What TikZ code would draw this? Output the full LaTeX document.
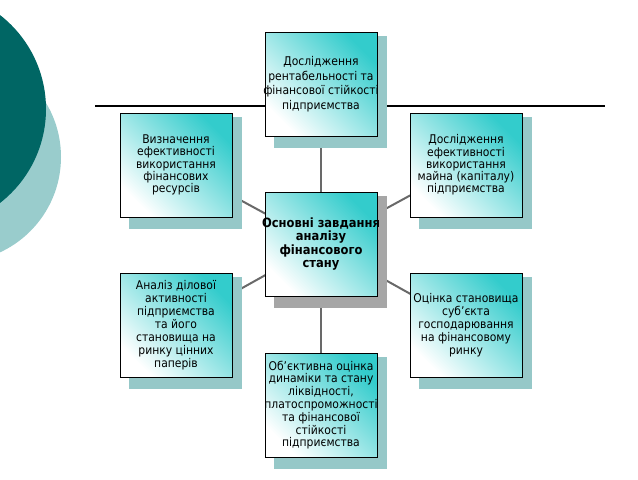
\documentclass[tikz,border=0pt]{standalone}
\usepackage{fontspec}
\setmainfont{DejaVu Sans Condensed}
\usepackage{xcolor}
\usetikzlibrary{backgrounds}

\definecolor{darkteal}{RGB}{0,102,100}
\definecolor{lightteal}{RGB}{153,204,204}
\definecolor{turq}{RGB}{51,204,204}
\definecolor{tealshadow}{RGB}{150,200,200}
\definecolor{greyshadow}{RGB}{166,166,166}
\definecolor{linkgrey}{RGB}{105,105,105}

\begin{document}
\begin{tikzpicture}[x=0.75pt, y=-0.75pt,
    task/.style={draw=black, line width=0.75pt, shading=axis, top color=turq,
      middle color=turq!30!white, bottom color=white,
      shading angle=-45, minimum width=84pt, minimum height=78pt, inner xsep=-6pt, inner ysep=0pt,
      align=center, font=\fontsize{9}{9.8}\selectfont},
    main/.style={task, font=\fontsize{9.6}{10}\selectfont\bfseries},
    link/.style={linkgrey, line width=1.5pt}]
    \clip (0,0) rectangle (638,479);

    % Central task
    \node[main] (c) at (321,244) {Основні завдання\\ аналізу\\ фінансового\\ стану};

    % Surrounding tasks
    \node[task, font=\fontsize{9}{10.9}\selectfont] (t) at (321,84)
        {Дослідження\\ рентабельності та\\ фінансової стійкості\\ підприємства};
    \node[task, font=\fontsize{9}{9.2}\selectfont] (lu) at (176,165)
        {Визначення\\ ефективності\\ використання\\ фінансових\\ ресурсів};
    \node[task, font=\fontsize{9}{9.2}\selectfont] (ru) at (466,165)
        {Дослідження\\ ефективності\\ використання\\ майна (капіталу)\\ підприємства};
    \node[task] (ll) at (176,325)
        {Аналіз ділової\\ активності\\ підприємства\\ та його\\ становища на\\ ринку цінних\\ паперів};
    \node[task] (rl) at (466,325)
        {Оцінка становища\\ суб’єкта\\ господарювання\\ на фінансовому\\ ринку};
    \node[task, font=\fontsize{9}{9.6}\selectfont] (b) at (321,405)
        {Об’єктивна оцінка\\ динаміки та стану\\ ліквідності,\\ платоспроможності\\ та фінансової\\ стійкості\\ підприємства};

    \begin{scope}[on background layer]
        % Circles on the left
        \fill[lightteal] (-44,157) circle (78.75pt);
        \fill[darkteal] (-73,109) circle (89.25pt);
        % Title rule
        \coordinate (hl) at (95,106);
        \coordinate (hr) at (605,106);
        \draw[black, line width=1.1pt] (hl) -- (hr);
        % Links from the centre
        \foreach \n in {t,lu,ru,ll,rl,b}
            \draw[link] (c.center) -- (\n.center);
        % Shadows
        \foreach \n in {t,lu,ru,ll,rl,b}
            \fill[tealshadow] ([shift={(9,4)}]\n.north west) rectangle ([shift={(9,11)}]\n.south east);
        \fill[greyshadow] ([shift={(9,4)}]c.north west) rectangle ([shift={(9,11)}]c.south east);
    \end{scope}
\end{tikzpicture}
\end{document}
